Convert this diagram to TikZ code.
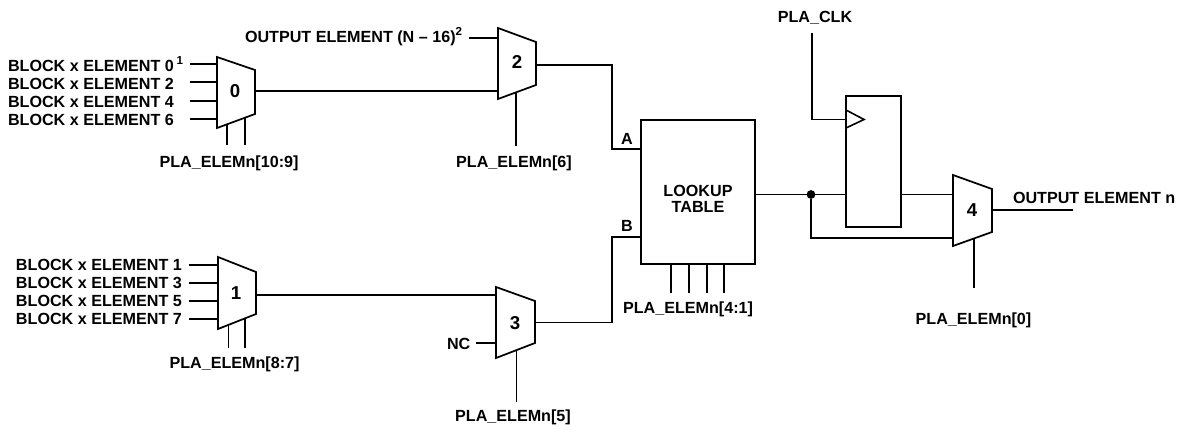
\documentclass[tikz,border=0pt]{standalone}
\usepackage{fontspec}
\setmainfont{Liberation Sans}
\newcommand{\supnum}[1]{\raisebox{0.42em}{\fontsize{8.7pt}{10pt}\selectfont #1}}
\tikzset{
  x=0.75pt,y=-0.75pt,
  wire/.style={line width=1.2pt,line join=miter},
  shapeline/.style={line width=1.3pt,line join=miter},
  lbl/.style={inner sep=0pt,outer sep=0pt,yshift=-0.5pt,font=\fontsize{12.1pt}{14pt}\bfseries},
  lw/.style={lbl,anchor=base west},
  lc/.style={lbl,anchor=base},
  muxnum/.style={inner sep=0pt,outer sep=0pt,font=\fontsize{14pt}{16pt}\bfseries},
  dot/.style={circle,fill=black,inner sep=0pt,minimum size=6.6pt,draw=none},
  boxnode/.style={draw,shapeline,inner sep=0pt,outer sep=0pt,anchor=north west}
}
\begin{document}
\begin{tikzpicture}
\useasboundingbox (0,0) rectangle (1182,429);
% mux corners
\foreach \n/\xa/\xb/\ya/\yb/\yc/\yd in {
  M0/217/255/57/70/114/128,
  M1/218/256/257/272/314/329,
  M2/498/536/28/42/85/99,
  M3/496/535/287/301/343/358,
  M4/953/992/175/189/232/246}{
  \draw[shapeline] (\xa,\ya) -- (\xb,\yb) -- (\xb,\yc) -- (\xa,\yd) -- cycle;
}
\node[muxnum] (n0) at (235,91) {0};
\node[muxnum] (n1) at (236,293) {1};
\node[muxnum] (n2) at (517,62) {2};
\node[muxnum] (n3) at (515,323) {3};
\node[muxnum] (n4) at (972,210) {4};
% mux port coordinates
\coordinate (m0a) at (217,64);\coordinate (m0b) at (217,82);\coordinate (m0c) at (217,101);\coordinate (m0d) at (217,119);
\coordinate (a0a) at (190,64);\coordinate (a0b) at (190,82);\coordinate (a0c) at (190,101);\coordinate (a0d) at (190,119);
\coordinate (m0s1) at (227,124.3);\coordinate (m0s2) at (245,117.7);
\coordinate (e0s1) at (227,145);\coordinate (e0s2) at (245,145);
\coordinate (m0o) at (255,91);
\coordinate (m1a) at (218,265);\coordinate (m1b) at (218,283);\coordinate (m1c) at (218,301);\coordinate (m1d) at (218,319);
\coordinate (a1a) at (189,265);\coordinate (a1b) at (189,283);\coordinate (a1c) at (189,301);\coordinate (a1d) at (189,319);
\coordinate (m1s1) at (228.5,325);\coordinate (m1s2) at (245,318.2);
\coordinate (e1s1) at (228.5,348);\coordinate (e1s2) at (245,348);
\coordinate (m1o) at (256,295);
\coordinate (m2i1) at (498,38);\coordinate (a2i1) at (469,38);
\coordinate (m2i2) at (498,91);
\coordinate (m2s) at (516,92.4);\coordinate (e2s) at (516,146);
\coordinate (m2o) at (536,65);
\coordinate (m3i1) at (496,295);
\coordinate (m3i2) at (496,343);\coordinate (a3i2) at (476,343);
\coordinate (m3s) at (516.5,351);\coordinate (e3s) at (516.5,402);
\coordinate (m3o) at (535,322.5);
% lookup table
\node[boxnode,minimum width=114*0.75pt,minimum height=144*0.75pt] (lut) at (641,120) {};
\coordinate (lA) at (641,149);\coordinate (lB) at (641,237);\coordinate (lO) at (755,194.5);
\coordinate (l1) at (671,264);\coordinate (l2) at (689,264);\coordinate (l3) at (707,264);\coordinate (l4) at (724,264);
\coordinate (e1) at (671,293);\coordinate (e2) at (689,293);\coordinate (e3) at (707,293);\coordinate (e4) at (724,293);
% flip-flop
\node[boxnode,minimum width=55*0.75pt,minimum height=131*0.75pt] (ff) at (846,96) {};
\draw[wire] (846,110) -- (864,119.5) -- (846,128);
\coordinate (ffc) at (846,119.5);\coordinate (ffd) at (846,194.5);\coordinate (ffq) at (901,194.5);
\coordinate (clk) at (812,33);
% mux 4 ports
\coordinate (m4a) at (953,194.5);\coordinate (m4b) at (953,238);
\coordinate (m4o) at (992,210);\coordinate (e4o) at (1073,210);
\coordinate (m4s) at (974,239);\coordinate (e4s) at (974,288);
\node[dot] (j) at (811,194.5) {};
% wires
\foreach \u/\v in {a0a/m0a,a0b/m0b,a0c/m0c,a0d/m0d,m0s1/e0s1,m0s2/e0s2,
  a1a/m1a,a1b/m1b,a1c/m1c,a1d/m1d,m1s1/e1s1,m1s2/e1s2,
  a2i1/m2i1,m2s/e2s,a3i2/m3i2,m3s/e3s,
  l1/e1,l2/e2,l3/e3,l4/e4,lO/ffd,ffq/m4a,m4o/e4o,m4s/e4s,m0o/m2i2,m1o/m3i1}
  {\draw[wire] (\u) -- (\v);}
\draw[wire] (m2o) -- (612,65) -- (612,149) -- (lA);
\draw[wire] (m3o) -- (612,322.5) -- (612,237) -- (lB);
\draw[wire] (clk) |- (ffc);
\draw[wire] (j) |- (m4b);
% labels
\node[lw] (t0) at (8,71) {BLOCK x ELEMENT 0\,\supnum{1}};
\node[lw] (t2) at (8,88.5) {BLOCK x ELEMENT 2};
\node[lw] (t4) at (8,107) {BLOCK x ELEMENT 4};
\node[lw] (t6) at (8,125) {BLOCK x ELEMENT 6};
\node[lw] (t1) at (16,269.5) {BLOCK x ELEMENT 1};
\node[lw] (t3) at (16,287.5) {BLOCK x ELEMENT 3};
\node[lw] (t5) at (16,305.5) {BLOCK x ELEMENT 5};
\node[lw] (t7) at (16,323.5) {BLOCK x ELEMENT 7};
\node[lw] (toe) at (245,42) {OUTPUT ELEMENT (N – 16)\supnum{2}};
\node[lc] (s0) at (229,167) {PLA\_ELEMn[10:9]};
\node[lc] (s1) at (234.5,368) {PLA\_ELEMn[8:7]};
\node[lc] (s2) at (514,167) {PLA\_ELEMn[6]};
\node[lc] (s3) at (513,421) {PLA\_ELEMn[5]};
\node[lw] (nc) at (447,349) {NC};
\node[lc] (ta) at (627,144) {A};
\node[lc] (tb) at (627,231) {B};
\node[lc] (lk) at (698,196) {LOOKUP};
\node[lc] (tb2) at (698,212) {TABLE};
\node[lc] (s4) at (688,313) {PLA\_ELEMn[4:1]};
\node[lc] (sc) at (815,22) {PLA\_CLK};
\node[lw] (on) at (1013,203) {OUTPUT ELEMENT n};
\node[lc] (s5) at (973.5,324) {PLA\_ELEMn[0]};
\end{tikzpicture}
\end{document}
